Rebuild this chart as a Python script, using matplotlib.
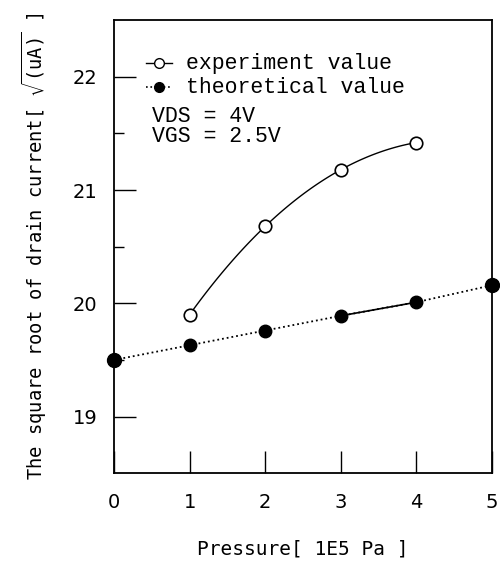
import matplotlib.pyplot as plt
import numpy as np

# datos
presion_exp = [1, 2, 3, 4]
valor_exp = [19.90, 20.68, 21.18, 21.42]
presion_teo = [0, 1, 2, 3, 4, 5]
valor_teo = [19.50, 19.63, 19.76, 19.89, 20.01, 20.16]

fig = plt.figure(figsize=(5.0, 5.62), dpi=100)
ax = fig.add_axes([0.228, 0.158, 0.756, 0.806])

# curva suave a traves de los puntos experimentales
coef = np.polyfit(presion_exp, valor_exp, 3)
xs = np.linspace(presion_exp[0], presion_exp[-1], 100)
ax.plot(xs, np.poly1d(coef)(xs), color="black", linewidth=1.0)
ax.plot(presion_exp, valor_exp, "o", markersize=9, markerfacecolor="white",
        markeredgecolor="black", markeredgewidth=1.2)

# valores teoricos: punteado, con tramo solido entre 3 y 4
ax.plot(presion_teo, valor_teo, ":", color="black", linewidth=1.3)
ax.plot(presion_teo[3:5], valor_teo[3:5], "-", color="black", linewidth=1.2)
ax.plot(presion_teo, valor_teo, "o", color="black", markersize=9, clip_on=False)
ax.plot(presion_teo[0::5], valor_teo[0::5], "o", color="black", markersize=10, clip_on=False)

ax.set_xlim(0, 5)
ax.set_ylim(18.5, 22.5)
ax.set_xticks([0, 1, 2, 3, 4, 5])
ax.set_yticks([19, 20, 21, 22])
ax.set_yticks([19.5, 20.5, 21.5], minor=True)
ax.tick_params(axis="both", which="both", direction="in", labelsize=14,
               top=False, right=False)
ax.tick_params(axis="x", length=16, width=1.0, pad=14)
ax.tick_params(axis="y", which="major", length=16, width=1.0, pad=12)
ax.tick_params(axis="y", which="minor", length=7, width=1.0)
for s in ax.spines.values():
    s.set_linewidth(1.3)

ax.set_xlabel("Pressure[ 1E5 Pa ]", fontsize=14, family="DejaVu Sans Mono", labelpad=20)
ax.set_ylabel(r"The square root of drain current[ $\sqrt{\mathtt{(uA)}}$ ]",
              fontsize=13.5, family="DejaVu Sans Mono", labelpad=17)

# leyenda manual
mono = "Liberation Mono"
ax.plot([0.42, 0.77], [22.12, 22.12], "-", color="black", linewidth=1.0)
ax.plot([0.6], [22.12], "o", markersize=7, markerfacecolor="white", markeredgecolor="black")
ax.plot([0.42, 0.77], [21.91, 21.91], ":", color="black", linewidth=1.2)
ax.plot([0.6], [21.91], "o", markersize=7, color="black")
ax.text(0.95, 22.12, "experiment value", family=mono, fontsize=15.5, va="center")
ax.text(0.95, 21.91, "theoretical value", family=mono, fontsize=15.5, va="center")
ax.text(0.5, 21.56, "VDS = 4V\nVGS = 2.5V", family=mono, fontsize=15.5,
        va="center", linespacing=0.9)

fig.savefig("out.png", dpi=100)
